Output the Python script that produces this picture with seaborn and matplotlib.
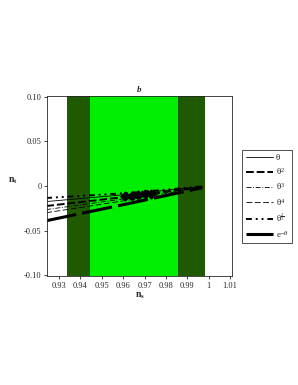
import matplotlib
matplotlib.use("Agg")
import matplotlib.pyplot as plt
import seaborn as sns
import pandas as pd

sns.set_style("ticks")
plt.rcParams['font.family'] = ['Liberation Serif', 'DejaVu Serif']
plt.rcParams['mathtext.fontset'] = 'custom'
plt.rcParams['mathtext.rm'] = 'Liberation Serif'
plt.rcParams['mathtext.it'] = 'Liberation Serif:italic'
plt.rcParams['mathtext.bf'] = 'Liberation Serif:bold'

# confidence bands (n_s ranges)
outer_band = [0.9335, 0.9985]
inner_band = [0.9447, 0.9855]

# model curves: n_s and n_t at a few points
labels = ['θ', 'θ$^2$', 'θ$^3$', 'θ$^4$', 'θ$^{\\frac{2}{3}}$', 'e$^{-θ}$']
ns_pts = [0.924, 0.962, 0.997]
nt_pts = {
    'θ':                 [-0.0175, -0.0095, -0.0005],
    'θ$^2$':             [-0.0225, -0.0120, -0.0010],
    'θ$^3$':             [-0.0265, -0.0140, -0.0012],
    'θ$^4$':             [-0.0300, -0.0160, -0.0015],
    'θ$^{\\frac{2}{3}}$': [-0.0135, -0.0080, -0.0005],
    'e$^{-θ}$':          [-0.0390, -0.0200, -0.0020],
}
# marked points (N = 50..60)
mark_ns = [0.961, 0.964, 0.967, 0.970, 0.973]
mark_nt = [-0.0115, -0.0110, -0.0105, -0.0095, -0.0090]

styles = {
    'θ':                 dict(ls='-', lw=0.6),
    'θ$^2$':             dict(ls=(0, (4, 1.5)), lw=1.4),
    'θ$^3$':             dict(ls=(0, (6, 2, 1, 2)), lw=0.6),
    'θ$^4$':             dict(ls=(0, (7, 3)), lw=0.6),
    'θ$^{\\frac{2}{3}}$': dict(ls=(0, (3, 2, 1, 2, 1, 2)), lw=1.4),
    'e$^{-θ}$':          dict(ls=(0, (10, 2)), lw=2.2),
}

fig = plt.figure(figsize=(2.98, 3.85), dpi=100)
ax = fig.add_axes([0.158, 0.283, 0.621, 0.468])

ax.axvspan(*outer_band, color='#1f5a00', lw=0)
ax.axvspan(*inner_band, color='#00ee00', lw=0)

for lab in labels:
    df = pd.DataFrame({'ns': ns_pts, 'nt': nt_pts[lab]})
    st = styles[lab]
    sns.lineplot(data=df, x='ns', y='nt', ax=ax, color='black', lw=st['lw'],
                 linestyle=st['ls'], label=lab)

ax.scatter(mark_ns, mark_nt, marker='D', s=20, color='black', zorder=5)

ax.set_xlim(0.9244, 1.011)
ax.set_ylim(-0.101, 0.101)
ax.set_xticks([0.93, 0.94, 0.95, 0.96, 0.97, 0.98, 0.99, 1.0, 1.01])
ax.set_xticklabels(['0.93', '0.94', '0.95', '0.96', '0.97', '0.98', '0.99', '1', '1.01'])
ax.set_yticks([-0.1, -0.05, 0, 0.05, 0.1])
ax.set_yticklabels(['-0.10', '-0.05', '0', '0.05', '0.10'])
ax.tick_params(labelsize=6, length=2, width=0.6, pad=2)
for s in ax.spines.values():
    s.set_linewidth(0.6)
    s.set_visible(True)

ax.set_xlabel('n$_\\mathbf{s}$', fontsize=7, fontweight='bold', labelpad=1)
ax.set_ylabel('n$_\\mathbf{t}$', fontsize=7, fontweight='bold', rotation=0, labelpad=8)
ax.set_title('b', fontsize=6.5, fontweight='bold', style='italic', pad=3)

leg = ax.legend(loc='center left', bbox_to_anchor=(1.03, 0.44), fontsize=6.5,
                frameon=True, fancybox=False, edgecolor='black',
                handlelength=3.0, labelspacing=0.45, borderpad=0.4, handletextpad=0.3)
leg.get_frame().set_linewidth(0.6)

fig.savefig('out.png', dpi=100)
